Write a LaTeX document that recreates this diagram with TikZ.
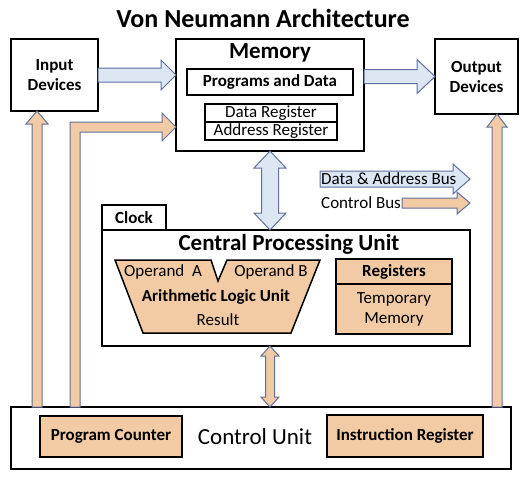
\documentclass[tikz,border=0pt]{standalone}
\usepackage{fontspec}
\setmainfont{Carlito}
\usetikzlibrary{calc}

\definecolor{busfill}{RGB}{221,230,243}
\definecolor{busline}{RGB}{96,112,158}
\definecolor{tanfill}{RGB}{242,202,163}

\tikzset{
  box/.style={draw=black,line width=1.5pt,fill=white,inner sep=0pt,outer sep=0pt,align=center},
  tanbox/.style={box,fill=tanfill},
  databus/.style={draw=busline,fill=busfill,line width=1pt},
  ctrlbus/.style={draw=busline,fill=tanfill,line width=1pt},
  titletxt/.style={font=\fontsize{26}{30}\selectfont\bfseries},
  headtxt/.style={font=\fontsize{23}{26}\selectfont\bfseries},
  boldtxt/.style={font=\fontsize{17}{20}\selectfont\bfseries},
  smbold/.style={font=\fontsize{17}{20}\selectfont\bfseries},
  plaintxt/.style={font=\fontsize{17}{20}\selectfont},
  lgtxt/.style={font=\fontsize{17}{20}\selectfont,inner sep=1pt},
}

% block arrow: style, from, to, shaft half width, head half width, head length
\newcommand{\busarrow}[6]{%
  \path ($(#3)!#6!(#2)$) coordinate (hbase);
  \draw[#1] ($(#2)!#4!90:(#3)$) -- ($(hbase)!#4!90:(#3)$) -- ($(hbase)!#5!90:(#3)$)
    -- (#3) -- ($(hbase)!#5!-90:(#3)$) -- ($(hbase)!#4!-90:(#3)$)
    -- ($(#2)!#4!-90:(#3)$) -- cycle;
}
% same, with a head at both ends
\newcommand{\dbusarrow}[6]{%
  \path ($(#2)!#6!(#3)$) coordinate (hbA) ($(#3)!#6!(#2)$) coordinate (hbB);
  \draw[#1] (#2) -- ($(hbA)!#5!90:(#3)$) -- ($(hbA)!#4!90:(#3)$) -- ($(hbB)!#4!90:(#3)$)
    -- ($(hbB)!#5!90:(#3)$) -- (#3) -- ($(hbB)!#5!-90:(#3)$) -- ($(hbB)!#4!-90:(#3)$)
    -- ($(hbA)!#4!-90:(#3)$) -- ($(hbA)!#5!-90:(#3)$) -- cycle;
}

\begin{document}
\begin{tikzpicture}[x=1pt,y=-1pt]
  \useasboundingbox (0,0) rectangle (529,480);

  % Title
  \node[titletxt] (title) at (263,18) {Von Neumann Architecture};

  %==========================
  % Top row: I/O and memory
  %==========================
  \node[box,boldtxt,minimum width=87pt,minimum height=72pt] (inp) at (54.5,75) {Input\\Devices};
  \node[box,boldtxt,minimum width=83pt,minimum height=75pt] (out) at (476.5,76.5) {Output\\Devices};

  \node[box,minimum width=188pt,minimum height=112pt] (mem) at (270,95) {};
  \node[headtxt] (memtitle) at (270,53) {Memory};
  \node[box,boldtxt,minimum width=166pt,minimum height=26pt] (prog) at (270,82) {Programs and Data};
  \node[box,plaintxt,minimum width=132pt,minimum height=18pt] (dreg) at (271,113) {Data Register};
  \node[box,plaintxt,minimum width=132pt,minimum height=18pt] (areg) at (271,131) {Address Register};

  %==========================
  % CPU
  %==========================
  \node[box,smbold,minimum width=64pt,minimum height=25pt] (clock) at (134,217.5) {Clock};
  \node[box,minimum width=368pt,minimum height=116pt] (cpu) at (286,288) {};
  \node[headtxt] (cputitle) at (289,244) {Central Processing Unit};

  % ALU (notched trapezoid)
  \filldraw[fill=tanfill,line width=1.5pt] (115,260) -- (211,260) -- (218,281) -- (227,260)
    -- (320,260) -- (291,333) -- (143,333) -- cycle;
  \node[plaintxt] (opa) at (163,272) {Operand\ \ A};
  \node[plaintxt] (opb) at (271,272) {Operand B};
  \node[smbold] (alu) at (216,297) {Arithmetic Logic Unit};
  \node[plaintxt] (result) at (218,320) {Result};

  % Registers
  \node[tanbox,smbold,minimum width=116pt,minimum height=25pt] (regs) at (394,271.5) {Registers};
  \node[tanbox,plaintxt,minimum width=116pt,minimum height=50pt] (tmpmem) at (394,309) {Temporary\\Memory};

  %==========================
  % Control unit
  %==========================
  \node[box,minimum width=500pt,minimum height=62pt] (cu) at (261,438) {};
  \node[font=\fontsize{23}{26}\selectfont] (cutitle) at (255,437) {Control Unit};
  \node[tanbox,smbold,minimum width=142pt,minimum height=41pt] (pc) at (111,436.5) {Program Counter};
  \node[tanbox,smbold,minimum width=156pt,minimum height=42pt] (ir) at (405,436) {Instruction Register};

  %==========================
  % Buses
  %==========================
  \coordinate (inbus) at (37,0);
  \coordinate (outbus) at (497,0);
  \coordinate (pcbus) at (75,127);

  \coordinate (inpin) at (inp.east -| mem.west);
  \coordinate (memout) at (mem.east |- out.west);
  \coordinate (memcpu) at (mem.south |- cpu.north);
  \coordinate (cpucu) at (mem.south |- cpu.south);
  \coordinate (cucpu) at (mem.south |- cu.north);
  \coordinate (inbot) at (inbus |- cu.north);
  \coordinate (intop) at (inbus |- inp.south);
  \coordinate (outbot) at (outbus |- cu.north);
  \coordinate (outtop) at (outbus |- out.south);
  \coordinate (pcbot) at (pcbus |- cu.north);
  \coordinate (pctip) at (pcbus -| mem.west);

  % data & address bus
  \busarrow{databus}{inp.east}{inpin}{7pt}{15pt}{15pt}
  \busarrow{databus}{memout}{out.west}{7pt}{17pt}{18pt}
  \dbusarrow{databus}{mem.south}{memcpu}{8.5pt}{16pt}{17pt}

  % control bus
  \busarrow{ctrlbus}{inbot}{intop}{5pt}{11pt}{13pt}
  \busarrow{ctrlbus}{outbot}{outtop}{5pt}{10pt}{13pt}
  \dbusarrow{ctrlbus}{cpucu}{cucpu}{4.5pt}{9pt}{10pt}
  \draw[ctrlbus] ($(pcbot)+(-5,0)$) -- ($(pcbus)+(-5,-5)$) -- ($(pctip)+(-14,-5)$)
    -- ($(pctip)+(-14,-14)$) -- (pctip) -- ($(pctip)+(-14,14)$) -- ($(pctip)+(-14,5)$)
    -- ($(pcbus)+(5,5)$) -- ($(pcbot)+(5,0)$) -- cycle;

  %==========================
  % Legend
  %==========================
  \coordinate (lgdatastart) at (320,179);
  \coordinate (lgdataend) at (470,179);
  \busarrow{databus}{lgdatastart}{lgdataend}{8pt}{15pt}{17pt}
  \node[lgtxt,anchor=west] (lgdata) at (lgdatastart) {Data \& Address Bus};
  \node[lgtxt,anchor=west] (lgctrl) at (320,203) {Control Bus};
  \coordinate (lgctrlend) at (470,203);
  \busarrow{ctrlbus}{lgctrl.east}{lgctrlend}{5pt}{11pt}{13pt}
\end{tikzpicture}
\end{document}
